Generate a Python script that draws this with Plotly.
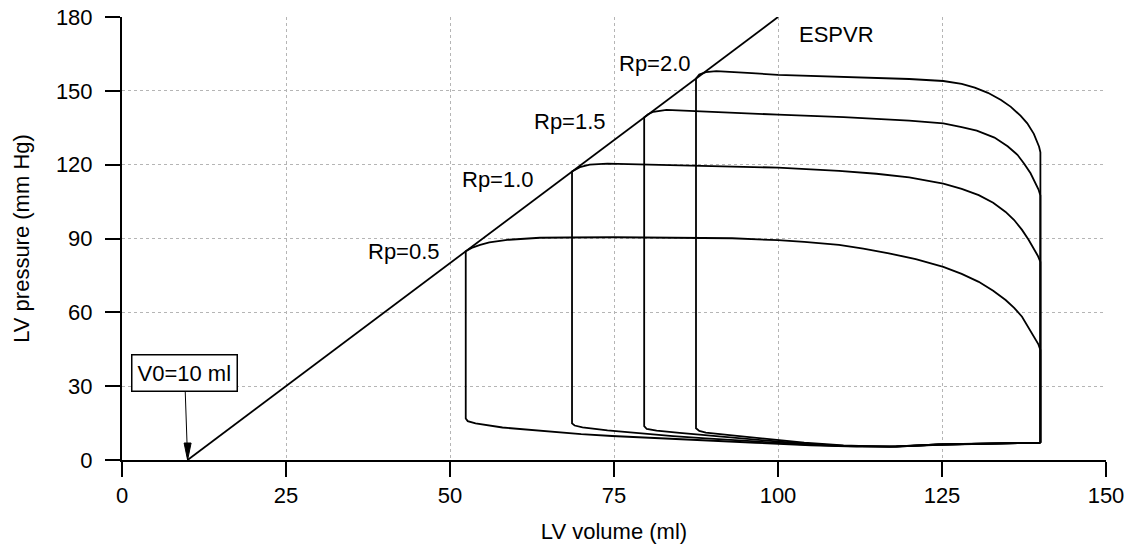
import plotly.graph_objects as go

# ---------------- data ----------------
espvr_vol = [10, 100]
espvr_pres = [0, 180]
v0 = 10

# Rp = 0.5 loop (end-diastole -> ejection -> relaxation -> filling)
rp05_vol = [140, 140, 139.7, 139, 138.2, 137.2, 136, 134.7, 132.8, 130.6, 128, 125.2, 121, 116.9, 113, 109.3,
            104, 100, 93, 85, 75, 68, 63.7, 59, 56, 54.6, 53.3, 52.4,
            52.4, 52.7, 53.9, 58, 63.6, 70, 74.7, 83.8, 90, 96.6, 105, 112, 118, 124.5, 130, 134.7, 140]
rp05_pres = [7.0, 44.7, 47, 50, 54, 58.2, 61.8, 65, 68.8, 72.4, 75.6, 78.5, 81.6, 84, 85.9, 87.4,
             88.6, 89.3, 90.1, 90.4, 90.5, 90.4, 90.3, 89.5, 88.4, 87.4, 86.2, 84.8,
             16.9, 15.8, 14.9, 13.2, 11.8, 10.5, 9.75, 8.5, 7.7, 7.0, 6.0, 5.4, 5.5, 6.3, 6.6, 6.8, 7.0]

# Rp = 1.0 loop
rp10_vol = [140, 140, 139.6, 139, 138.2, 137.2, 136, 134.7, 132.8, 130.6, 128, 125.2, 120, 115, 109.3,
            100, 93, 87.5, 79.6, 74, 71.3, 69.8, 68.6,
            68.6, 69, 70.2, 74, 78.8, 84, 89, 96, 103, 110, 118, 124.5, 130, 134.7, 140]
rp10_pres = [7.0, 80.5, 83, 86, 89.5, 93.5, 97.5, 100.8, 104.5, 107.6, 110.2, 112.3, 114.8, 116.3, 117.5,
             118.8, 119.3, 119.6, 120.3, 120.4, 120, 119, 117.2,
             14.9, 14, 13.3, 12, 10.8, 9.7, 8.8, 7.6, 6.5, 5.6, 5.5, 6.3, 6.6, 6.8, 7.0]

# Rp = 1.5 loop
rp15_vol = [140, 140, 139.7, 139.2, 138.5, 137.5, 136.5, 135, 133, 130.3, 128, 125.2, 120, 115, 110,
            100, 92, 86, 83, 81, 80.2, 79.6,
            79.6, 80, 81.5, 85, 90, 96, 103, 110, 118, 124.5, 130, 134.7, 140]
rp15_pres = [7.0, 107.5, 110, 113, 116.5, 120.5, 124, 127.5, 131, 133.8, 135.3, 136.8, 137.9, 138.6, 139.3,
             140.3, 141.3, 142.2, 142.3, 141.5, 140.5, 139.2,
             13.8, 12.6, 11.9, 11.0, 9.8, 8.3, 6.8, 5.7, 5.4, 6.3, 6.6, 6.8, 7.0]

# Rp = 2.0 loop
rp20_vol = [140, 140, 139.8, 139.5, 139, 138, 137, 135.5, 134, 132, 130, 128, 125.2, 120, 110, 100, 96,
            93, 90.6, 89, 88, 87.5,
            87.5, 88, 89, 93, 98, 104, 110, 117, 124.5, 130, 134.7, 140]
rp20_pres = [7.0, 125, 127.3, 129.5, 132.5, 136.8, 139.8, 143.5, 146.3, 149.2, 151.3, 152.8, 154, 154.8,
             155.6, 156.5, 157.2, 157.8, 158, 157.6, 156.6, 155,
             12.9, 11.8, 11.1, 10.0, 8.6, 7.0, 5.9, 5.3, 6.2, 6.6, 6.8, 7.0]

label_text = ["Rp=0.5", "Rp=1.0", "Rp=1.5", "Rp=2.0", "ESPVR"]
label_vol = [43, 57.3, 68.3, 81.3, 108.9]
label_pres = [84.9, 113.8, 137.5, 161, 172.7]

x_ticks = [0, 25, 50, 75, 100, 125, 150]
y_ticks = [0, 30, 60, 90, 120, 150, 180]

FONT = "Liberation Sans, Arial, sans-serif"

fig = go.Figure()
line_style = dict(color="black", width=1.8)
fig.add_trace(go.Scatter(x=espvr_vol, y=espvr_pres, mode="lines", line=line_style, hoverinfo="skip"))
for vx, py in [(rp05_vol, rp05_pres), (rp10_vol, rp10_pres), (rp15_vol, rp15_pres), (rp20_vol, rp20_pres)]:
    fig.add_trace(go.Scatter(x=vx, y=py, mode="lines", line=line_style, hoverinfo="skip"))

for t, xv, yv in zip(label_text, label_vol, label_pres):
    fig.add_annotation(x=xv, y=yv, text=t, showarrow=False, xanchor="center", yanchor="middle",
                       font=dict(family=FONT, size=22, color="black"))

# V0 box with arrow
fig.add_annotation(x=v0, y=0, text="V0=10 ml", showarrow=True, ax=-3, ay=-87,
                   arrowhead=0, arrowwidth=1, arrowcolor="black", standoff=0,
                   bordercolor="black", borderwidth=1.5, borderpad=5, bgcolor="white",
                   font=dict(family=FONT, size=22, color="black"))
fig.add_shape(type="path", xref="x", yref="y", xsizemode="pixel", ysizemode="pixel",
              xanchor=v0, yanchor=0, path="M -3.5 17 L 3.5 17 L 0 0 Z",
              fillcolor="black", line=dict(color="black", width=1))

axis_common = dict(showline=True, linecolor="black", linewidth=2, ticks="outside", ticklen=15,
                   tickwidth=2, tickcolor="black", showgrid=True, gridcolor="#b5b5b5", gridwidth=1,
                   griddash="dot", zeroline=False, tickfont=dict(family=FONT, size=22, color="black"),
                   mirror=False, automargin=False, ticklabeloverflow="allow")
fig.update_xaxes(range=[0, 150], tickvals=x_ticks, ticktext=[str(v) for v in x_ticks],
                 title=dict(text="LV volume (ml)", font=dict(family=FONT, size=22, color="black"), standoff=16),
                 **axis_common)
fig.update_yaxes(range=[0, 180], tickvals=y_ticks, ticktext=[str(v) for v in y_ticks],
                 ticklabelstandoff=8,
                 title=dict(text="LV pressure (mm Hg)", font=dict(family=FONT, size=22, color="black"), standoff=20),
                 **axis_common)

fig.update_layout(width=1133, height=546, margin=dict(l=122, r=27, t=17, b=86),
                  plot_bgcolor="white", paper_bgcolor="white", showlegend=False,
                  font=dict(family=FONT, size=22, color="black"))

# remove the default 8 px page margin so the figure fills the window exactly
fig.write_html("out.html", config={"displayModeBar": False},
               post_script="document.body.style.margin='0';document.body.style.overflow='hidden';")
